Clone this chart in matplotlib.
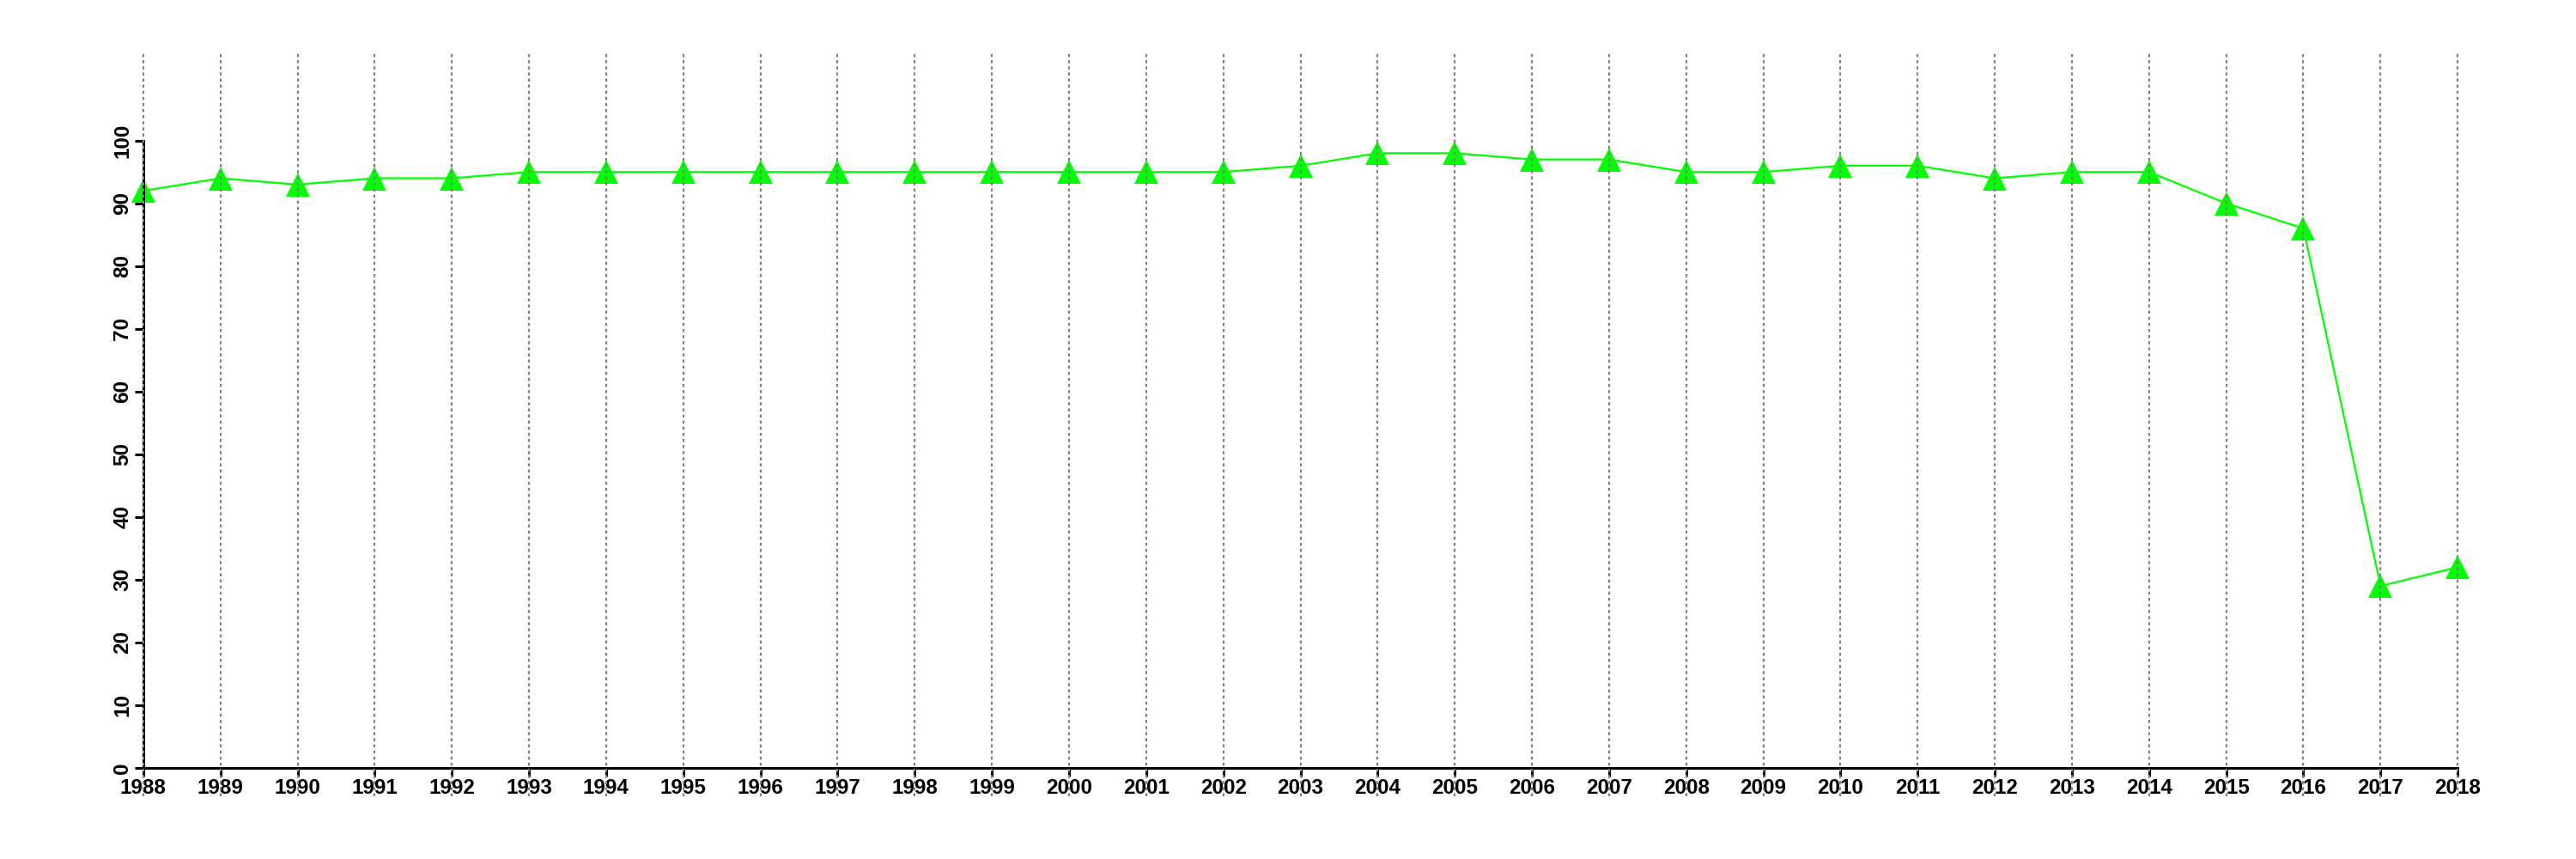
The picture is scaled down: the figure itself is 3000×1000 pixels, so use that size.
import numpy as np
from matplotlib import pyplot as plt

years = list(range(1988, 2019))
values = [92, 94, 93, 94, 94, 95, 95, 95, 95, 95, 95, 95, 95, 95, 95, 96,
          98, 98, 97, 97, 95, 95, 96, 96, 94, 95, 95, 90, 86, 29, 32]
yticks = list(range(0, 101, 10))

plt.rcParams['font.family'] = ['Liberation Sans', 'DejaVu Sans']

fig = plt.figure(figsize=(30, 10), dpi=100)
ax = fig.add_axes([59 / 3000, 0.073, (2970 - 59) / 3000, 0.867])

ax.plot(years, values, color='#00ff00', lw=1.6, marker='^', ms=20,
        markeredgewidth=0, zorder=2)

# dotted verticals drawn over the points
for yr in years:
    ax.axvline(yr, color='#808080', lw=1.6, ls=(0, (1.6, 1.6)), zorder=3)

ax.set_xlim(1986.8, 2019.2)
ax.set_ylim(-4.52, 114.2)

for s in ['top', 'right']:
    ax.spines[s].set_visible(False)
ax.spines['left'].set_bounds(0, 100)
ax.spines['bottom'].set_bounds(1988, 2018)
ax.spines['bottom'].set_position(('data', 0))
ax.spines['left'].set_position(('data', 1988))
ax.spines['left'].set_linewidth(2.2)
ax.spines['bottom'].set_linewidth(2.2)

ax.set_xticks(years)
ax.set_xticklabels([str(y) for y in years], fontsize=17.5, fontweight='bold')
ax.set_yticks(yticks)
ax.set_yticklabels([str(v) for v in yticks], fontsize=17.5, fontweight='bold',
                   rotation=90, va='center')
ax.tick_params(axis='both', length=7, width=2.2, pad=2)

fig.savefig('out.png', dpi=100)
